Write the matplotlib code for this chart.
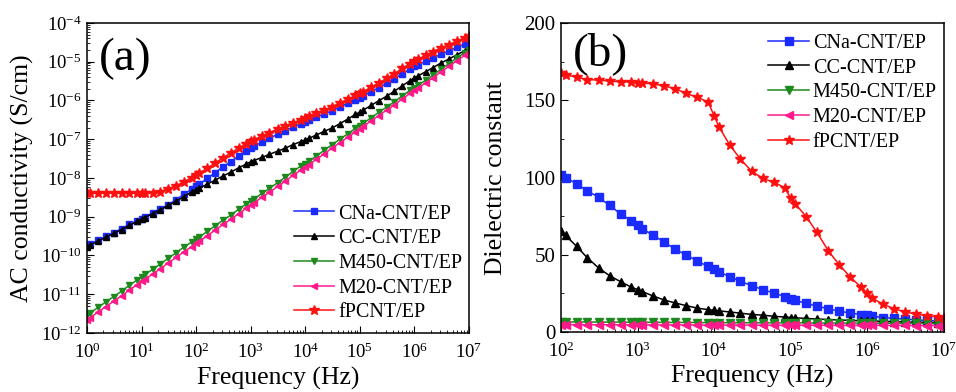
import numpy as np
import matplotlib
matplotlib.use("Agg")
import matplotlib.pyplot as plt
from matplotlib.ticker import LogLocator, MultipleLocator, NullFormatter

# ---- data ----
freq = [1, 1.15, 1.6, 2.2, 3.1, 4.3, 6.0, 8.3,
        10, 11.5, 16, 22, 31, 43, 60, 83,
        100, 115, 160, 220, 310, 430, 600, 830,
        1e3, 1.15e3, 1.6e3, 2.2e3, 3.1e3, 4.3e3, 6.0e3, 8.3e3,
        1e4, 1.15e4, 1.6e4, 2.2e4, 3.1e4, 4.3e4, 6.0e4, 8.3e4,
        1e5, 1.15e5, 1.6e5, 2.2e5, 3.1e5, 4.3e5, 6.0e5, 8.3e5,
        1e6, 1.15e6, 1.6e6, 2.2e6, 3.1e6, 4.3e6, 6.0e6, 8.3e6,
        1e7]

labels = ["CNa-CNT/EP", "CC-CNT/EP", "M450-CNT/EP", "M20-CNT/EP", "fPCNT/EP"]

# (a) AC conductivity, log10(S/cm)
cna_log = [-9.75, -9.71, -9.61, -9.51, -9.41, -9.31, -9.20, -9.11,
           -9.05, -9.01, -8.90, -8.80, -8.69, -8.56, -8.42, -8.29,
           -8.22, -8.16, -8.01, -7.87, -7.71, -7.58, -7.43, -7.30,
           -7.22, -7.18, -7.08, -6.98, -6.87, -6.78, -6.69, -6.60,
           -6.55, -6.51, -6.43, -6.35, -6.26, -6.17, -6.07, -5.98,
           -5.93, -5.88, -5.78, -5.67, -5.56, -5.44, -5.31, -5.19,
           -5.12, -5.08, -4.99, -4.90, -4.81, -4.72, -4.63, -4.55,
           -4.50]
cc_log = [-9.77, -9.73, -9.63, -9.53, -9.43, -9.33, -9.22, -9.12,
          -9.06, -9.02, -8.92, -8.82, -8.71, -8.60, -8.48, -8.36,
          -8.30, -8.26, -8.16, -8.06, -7.95, -7.85, -7.74, -7.64,
          -7.58, -7.55, -7.47, -7.39, -7.31, -7.23, -7.14, -7.06,
          -7.02, -6.98, -6.89, -6.80, -6.71, -6.60, -6.48, -6.36,
          -6.30, -6.25, -6.13, -6.01, -5.89, -5.76, -5.62, -5.49,
          -5.42, -5.37, -5.26, -5.15, -5.03, -4.93, -4.82, -4.72,
          -4.66]
m450_log = [-11.54, -11.48, -11.34, -11.20, -11.06, -10.92, -10.77, -10.63,
            -10.55, -10.49, -10.36, -10.22, -10.07, -9.93, -9.78, -9.65,
            -9.58, -9.52, -9.38, -9.24, -9.09, -8.96, -8.81, -8.67,
            -8.60, -8.54, -8.40, -8.27, -8.12, -7.98, -7.83, -7.69,
            -7.63, -7.57, -7.43, -7.29, -7.14, -7.00, -6.86, -6.72,
            -6.65, -6.59, -6.45, -6.31, -6.17, -6.03, -5.88, -5.74,
            -5.67, -5.61, -5.48, -5.34, -5.19, -5.05, -4.90, -4.77,
            -4.69]
m20_log = [-11.66, -11.60, -11.46, -11.32, -11.18, -11.04, -10.89, -10.75,
           -10.67, -10.61, -10.48, -10.34, -10.19, -10.05, -9.90, -9.77,
           -9.69, -9.63, -9.49, -9.35, -9.20, -9.07, -8.92, -8.78,
           -8.70, -8.64, -8.50, -8.37, -8.22, -8.08, -7.93, -7.79,
           -7.72, -7.66, -7.52, -7.38, -7.23, -7.09, -6.95, -6.81,
           -6.73, -6.67, -6.53, -6.39, -6.25, -6.11, -5.96, -5.82,
           -5.74, -5.68, -5.55, -5.41, -5.26, -5.12, -4.97, -4.84,
           -4.76]
fp_log = [-8.39, -8.39, -8.39, -8.39, -8.39, -8.39, -8.39, -8.39,
          -8.39, -8.39, -8.38, -8.35, -8.28, -8.20, -8.10, -7.99,
          -7.93, -7.87, -7.75, -7.62, -7.48, -7.36, -7.23, -7.12,
          -7.05, -7.01, -6.92, -6.83, -6.74, -6.66, -6.57, -6.50,
          -6.45, -6.41, -6.33, -6.25, -6.16, -6.06, -5.97, -5.87,
          -5.82, -5.77, -5.66, -5.55, -5.43, -5.31, -5.17, -5.05,
          -4.98, -4.94, -4.84, -4.74, -4.64, -4.56, -4.47, -4.39,
          -4.34]

# (b) dielectric constant, from 100 Hz
freq_b = freq[16:]
cna_eps = [101.5, 100.0, 96.0, 91.5, 87.2, 82.0, 76.5, 72.0,
           69.5, 67.0, 62.5, 58.5, 53.5, 50.0, 46.0, 42.5,
           40.5, 39.0, 35.8, 32.8, 30.0, 27.5, 25.3, 23.0,
           21.7, 20.5, 18.5, 16.8, 15.0, 13.5, 12.3, 11.3,
           10.8, 10.2, 9.4, 8.9, 8.4, 7.9, 7.5, 7.2,
           7.0]
cc_eps = [65.5, 62.5, 55.5, 48.1, 41.5, 36.5, 32.6, 29.0,
          27.5, 26.2, 23.3, 20.8, 18.8, 17.1, 15.5, 14.5,
          14.0, 13.7, 13.0, 12.2, 11.4, 10.9, 10.2, 9.7,
          9.4, 9.2, 8.8, 8.4, 8.1, 7.8, 7.5, 7.3,
          7.2, 7.1, 6.9, 6.7, 6.5, 6.4, 6.2, 6.1,
          6.0]
m450_eps = [6.6, 6.6, 6.5, 6.5, 6.4, 6.4, 6.4, 6.3,
            6.3, 6.3, 6.3, 6.2, 6.2, 6.2, 6.1, 6.1,
            6.1, 6.1, 6.0, 6.0, 6.0, 6.0, 5.9, 5.9,
            5.9, 5.9, 5.9, 5.8, 5.8, 5.8, 5.8, 5.8,
            5.8, 5.7, 5.7, 5.7, 5.7, 5.7, 5.6, 5.6,
            5.6]
m20_eps = [4.8, 4.8, 4.8, 4.7, 4.7, 4.7, 4.7, 4.7,
           4.6, 4.6, 4.6, 4.6, 4.6, 4.6, 4.5, 4.5,
           4.5, 4.5, 4.5, 4.5, 4.5, 4.4, 4.4, 4.4,
           4.4, 4.4, 4.4, 4.4, 4.4, 4.3, 4.3, 4.3,
           4.3, 4.3, 4.3, 4.3, 4.3, 4.2, 4.2, 4.2,
           4.2]
fp_eps = [167.5, 166.5, 165.0, 163.5, 163.1, 162.5, 162.0, 161.8,
          161.5, 161.3, 160.6, 159.5, 157.5, 154.5, 152.0, 149.0,
          140.0, 133.0, 121.0, 112.0, 104.0, 99.5, 97.0, 93.5,
          86.5, 83.0, 74.5, 64.5, 52.5, 43.5, 35.5, 29.0,
          25.0, 22.0, 18.0, 15.2, 13.0, 11.6, 10.5, 9.7,
          9.3]

colors = ["#1a2bff", "#000000", "#1c8a1c", "#ff1a8c", "#ff1010"]
markers = ["s", "^", "v", "<", "*"]

plt.rcParams.update({
    "font.family": ["Liberation Serif", "DejaVu Serif"],
    "mathtext.fontset": "stix",
    "axes.unicode_minus": False,
    "axes.linewidth": 1.1,
    "xtick.direction": "in",
    "ytick.direction": "in",
    "xtick.major.size": 5,
    "ytick.major.size": 5,
    "xtick.minor.size": 2.5,
    "ytick.minor.size": 2.5,
    "xtick.major.pad": 7,
    "ytick.major.pad": 4,
})


def style_axes(ax):
    ax.tick_params(axis="both", which="both", top=False, right=False)


def add_legend(ax, loc, anchor):
    ax.legend(loc=loc, bbox_to_anchor=anchor, frameon=False,
              fontsize=14.5, handlelength=2.0, handletextpad=0.2,
              labelspacing=0.28, borderaxespad=0.2)


fig = plt.figure(figsize=(9.56, 3.92), dpi=100)

# ---- (a) AC conductivity ----
ax = fig.add_axes([0.091, 0.1505, 0.3996, 0.791])
series_a = [cna_log, cc_log, m450_log, m20_log, fp_log]
for ys, c, m, lab in zip(series_a, colors, markers, labels):
    ms = 7 if m == "*" else 5
    ax.plot(freq, 10 ** np.array(ys), color=c, marker=m, ms=ms,
            lw=1.1, mec=c, mfc=c, label=lab)
ax.set_xscale("log")
ax.set_yscale("log")
ax.set_xlim(1, 1e7)
ax.set_ylim(1e-12, 1e-4)
ax.xaxis.set_major_locator(LogLocator(base=10, numticks=20))
ax.yaxis.set_major_locator(LogLocator(base=10, numticks=20))
ax.xaxis.set_minor_locator(LogLocator(base=10, subs=np.arange(2, 10), numticks=20))
ax.yaxis.set_minor_locator(LogLocator(base=10, subs=np.arange(2, 10), numticks=20))
ax.xaxis.set_minor_formatter(NullFormatter())
ax.yaxis.set_minor_formatter(NullFormatter())
ax.tick_params(axis="both", labelsize=13.5)
style_axes(ax)
ax.set_xlabel("Frequency (Hz)", fontsize=18.5)
ax.set_ylabel("AC conductivity (S/cm)", fontsize=18.5)
ax.xaxis.set_label_coords(0.5, -0.108)
ax.yaxis.set_label_coords(-0.14, 0.5)
ax.text(0.03, 0.885, "(a)", transform=ax.transAxes, fontsize=34,
        ha="left", va="center")
add_legend(ax, "lower left", (0.51, -0.005))

# ---- (b) dielectric constant ----
bx = fig.add_axes([0.5868, 0.153, 0.4006, 0.788])
series_b = [cna_eps, cc_eps, m450_eps, m20_eps, fp_eps]
for ys, c, m, lab in zip(series_b, colors, markers, labels):
    ms = 7.5 if m == "*" else 5.5
    bx.plot(freq_b, ys, color=c, marker=m, ms=ms,
            lw=1.1, mec=c, mfc=c, label=lab)
bx.set_xscale("log")
bx.set_xlim(1e2, 1e7)
bx.set_ylim(0, 200)
bx.xaxis.set_major_locator(LogLocator(base=10, numticks=20))
bx.xaxis.set_minor_locator(LogLocator(base=10, subs=np.arange(2, 10), numticks=20))
bx.xaxis.set_minor_formatter(NullFormatter())
bx.yaxis.set_major_locator(MultipleLocator(50))
bx.yaxis.set_minor_locator(MultipleLocator(25))
bx.tick_params(axis="x", labelsize=13.5)
bx.tick_params(axis="y", labelsize=15)
style_axes(bx)
bx.set_xlabel("Frequency (Hz)", fontsize=18.5)
bx.set_ylabel("Dielectric constant", fontsize=18.5)
bx.xaxis.set_label_coords(0.5, -0.108)
bx.yaxis.set_label_coords(-0.14, 0.5)
bx.text(0.03, 0.90, "(b)", transform=bx.transAxes, fontsize=34,
        ha="left", va="center")
add_legend(bx, "upper left", (0.51, 1.005))

fig.savefig("out.png", dpi=100)
plt.close(fig)
